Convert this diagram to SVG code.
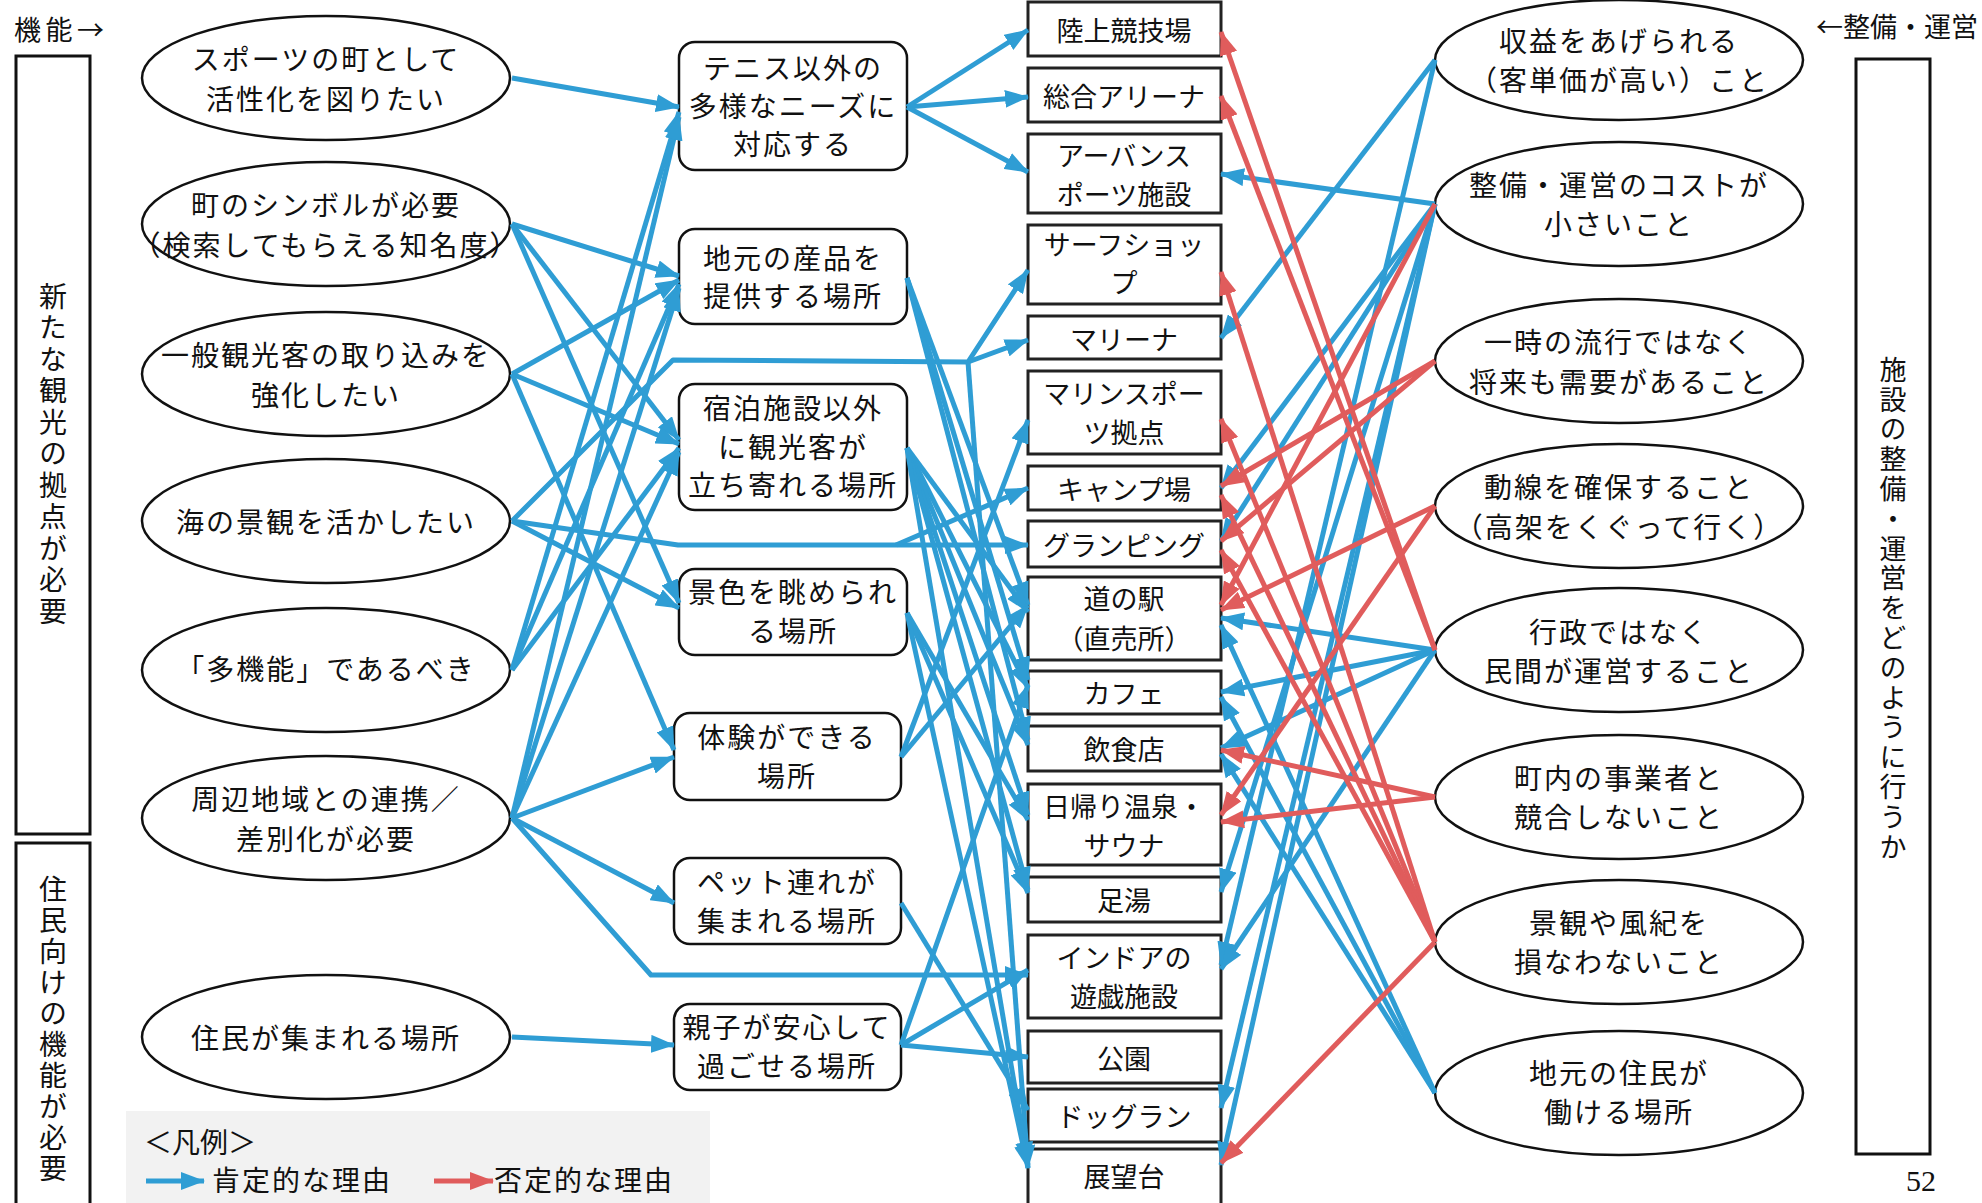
<svg xmlns="http://www.w3.org/2000/svg" width="1982" height="1203" viewBox="0 0 1982 1203">
<defs>
<marker id="ab" markerUnits="userSpaceOnUse" markerWidth="24" markerHeight="18" viewBox="0 0 24 18" refX="23" refY="9" orient="auto"><path d="M0,0 L24,9 L0,18 z" fill="#2f9dd4"/></marker>
<marker id="ar" markerUnits="userSpaceOnUse" markerWidth="24" markerHeight="18" viewBox="0 0 24 18" refX="23" refY="9" orient="auto"><path d="M0,0 L24,9 L0,18 z" fill="#e05c5c"/></marker>
<style>
.ell{fill:#fff;stroke:#111;stroke-width:2.5}
.box{fill:#fff;stroke:#222;stroke-width:3}
.rb{fill:#fff;stroke:#111;stroke-width:2.5}
.t{font-family:"Noto Sans CJK JP","Noto Sans CJK SC",sans-serif;font-size:28px;fill:#111;text-anchor:middle;dominant-baseline:central;letter-spacing:2px}
.tm{font-family:"Noto Sans CJK JP","Noto Sans CJK SC",sans-serif;font-size:28px;fill:#111;text-anchor:middle;dominant-baseline:central;letter-spacing:2px}
.tb{font-family:"Noto Sans CJK JP","Noto Sans CJK SC",sans-serif;font-size:27px;fill:#111;text-anchor:middle;dominant-baseline:central}
.tv{font-family:"Noto Sans CJK JP","Noto Sans CJK SC",sans-serif;font-size:28px;fill:#111;writing-mode:vertical-rl;text-orientation:upright}
.ba{stroke:#2f9dd4;stroke-width:5;fill:none;stroke-linejoin:round;marker-end:url(#ab)}
.ra{stroke:#e05c5c;stroke-width:5;fill:none;marker-end:url(#ar)}
</style>
</defs>
<rect width="1982" height="1203" fill="#fff"/>

<g id="side-labels">
<text x="14" y="28" textLength="90" lengthAdjust="spacing" style="font-family:'Noto Sans CJK JP',sans-serif;font-size:27px;fill:#111;dominant-baseline:central">機能→</text>
<rect x="16" y="56" width="74" height="778" fill="#fff" stroke="#111" stroke-width="3"/>
<text x="53" y="282" class="tv" style="letter-spacing:3.5px">新たな観光の拠点が必要</text>
<rect x="16" y="843" width="74" height="380" fill="#fff" stroke="#111" stroke-width="3"/>
<text x="53" y="875" class="tv" style="letter-spacing:3px">住民向けの機能が必要</text>
<text x="1978" y="25" style="font-family:'Noto Sans CJK JP',sans-serif;font-size:27px;fill:#111;dominant-baseline:central;text-anchor:end">←整備・運営</text>
<rect x="1856" y="59" width="74" height="1095" fill="#fff" stroke="#111" stroke-width="3"/>
<text x="1893" y="356" class="tv" style="font-size:27px;letter-spacing:2.8px">施設の整備・運営をどのように行うか</text>
<text x="1921" y="1180" style="font-family:'Liberation Serif',serif;font-size:30px;fill:#111;text-anchor:middle;dominant-baseline:central">52</text>
</g>

<g id="legend">
<rect x="126" y="1111" width="584" height="100" fill="#f2f2f2"/>
<text x="144" y="1141" style="font-family:'Noto Sans CJK JP',sans-serif;font-size:28px;fill:#111;dominant-baseline:central">＜凡例＞</text>
<line x1="146" y1="1181" x2="204" y2="1181" class="ba"/>
<text x="212" y="1179" style="font-family:'Noto Sans CJK JP',sans-serif;font-size:28px;fill:#111;dominant-baseline:central;letter-spacing:2px">肯定的な理由</text>
<line x1="434" y1="1181" x2="493" y2="1181" class="ra"/>
<text x="494" y="1179" style="font-family:'Noto Sans CJK JP',sans-serif;font-size:28px;fill:#111;dominant-baseline:central;letter-spacing:2px">否定的な理由</text>
</g>

<g id="n-e1"><ellipse cx="326" cy="78" rx="184" ry="62" class="ell"/><text x="326" y="58" class="t">スポーツの町として</text><text x="326" y="98" class="t">活性化を図りたい</text></g>
<g id="n-e2"><ellipse cx="326" cy="224" rx="184" ry="62" class="ell"/><text x="326" y="204" class="t">町のシンボルが必要</text><text x="326" y="244" class="t">（検索してもらえる知名度）</text></g>
<g id="n-e3"><ellipse cx="326" cy="374" rx="184" ry="62" class="ell"/><text x="326" y="354" class="t">一般観光客の取り込みを</text><text x="326" y="394" class="t">強化したい</text></g>
<g id="n-e4"><ellipse cx="326" cy="521" rx="184" ry="62" class="ell"/><text x="326" y="521" class="t">海の景観を活かしたい</text></g>
<g id="n-e5"><ellipse cx="326" cy="670" rx="184" ry="62" class="ell"/><text x="326" y="668" class="t">「多機能」であるべき</text></g>
<g id="n-e6"><ellipse cx="326" cy="818" rx="184" ry="62" class="ell"/><text x="326" y="798" class="t">周辺地域との連携／</text><text x="326" y="838" class="t">差別化が必要</text></g>
<g id="n-e7"><ellipse cx="326" cy="1037" rx="184" ry="62" class="ell"/><text x="326" y="1037" class="t">住民が集まれる場所</text></g>

<g id="n-m1"><rect x="679" y="42" width="228" height="128" rx="16" class="rb"/><text x="793" y="67" class="tm">テニス以外の</text><text x="793" y="105" class="tm">多様なニーズに</text><text x="793" y="143" class="tm">対応する</text></g>
<g id="n-m2"><rect x="679" y="229" width="228" height="95" rx="16" class="rb"/><text x="793" y="257" class="tm">地元の産品を</text><text x="793" y="295" class="tm">提供する場所</text></g>
<g id="n-m3"><rect x="679" y="384" width="228" height="126" rx="16" class="rb"/><text x="793" y="407" class="tm">宿泊施設以外</text><text x="793" y="446" class="tm">に観光客が</text><text x="793" y="484" class="tm">立ち寄れる場所</text></g>
<g id="n-m4"><rect x="679" y="569" width="228" height="86" rx="16" class="rb"/><text x="793" y="591" class="tm">景色を眺められ</text><text x="793" y="630" class="tm">る場所</text></g>
<g id="n-m5"><rect x="674" y="713" width="227" height="87" rx="16" class="rb"/><text x="787" y="736" class="tm">体験ができる</text><text x="787" y="775" class="tm">場所</text></g>
<g id="n-m6"><rect x="674" y="858" width="227" height="86" rx="16" class="rb"/><text x="787" y="881" class="tm">ペット連れが</text><text x="787" y="920" class="tm">集まれる場所</text></g>
<g id="n-m7"><rect x="674" y="1004" width="227" height="86" rx="16" class="rb"/><text x="787" y="1026" class="tm">親子が安心して</text><text x="787" y="1065" class="tm">過ごせる場所</text></g>

<g id="n-r1"><rect x="1028" y="2" width="193" height="54" class="box"/><text x="1124" y="29" class="tb">陸上競技場</text></g>
<g id="n-r2"><rect x="1028" y="68" width="193" height="54" class="box"/><text x="1124" y="95" class="tb">総合アリーナ</text></g>
<g id="n-r3"><rect x="1028" y="134" width="193" height="79" class="box"/><text x="1124" y="154" class="tb">アーバンス</text><text x="1124" y="193" class="tb">ポーツ施設</text></g>
<g id="n-r4"><rect x="1028" y="225" width="193" height="79" class="box"/><text x="1124" y="243" class="tb">サーフショッ</text><text x="1124" y="281" class="tb">プ</text></g>
<g id="n-r5"><rect x="1028" y="316" width="193" height="43" class="box"/><text x="1124" y="338" class="tb">マリーナ</text></g>
<g id="n-r6"><rect x="1028" y="371" width="193" height="83" class="box"/><text x="1124" y="392" class="tb">マリンスポー</text><text x="1124" y="431" class="tb">ツ拠点</text></g>
<g id="n-r7"><rect x="1028" y="466" width="193" height="44" class="box"/><text x="1124" y="488" class="tb">キャンプ場</text></g>
<g id="n-r8"><rect x="1028" y="521" width="193" height="46" class="box"/><text x="1124" y="544" class="tb">グランピング</text></g>
<g id="n-r9"><rect x="1028" y="577" width="193" height="83" class="box"/><text x="1124" y="597" class="tb">道の駅</text><text x="1124" y="637" class="tb">（直売所）</text></g>
<g id="n-r10"><rect x="1028" y="671" width="193" height="43" class="box"/><text x="1124" y="692" class="tb">カフェ</text></g>
<g id="n-r11"><rect x="1028" y="726" width="193" height="45" class="box"/><text x="1124" y="748" class="tb">飲食店</text></g>
<g id="n-r12"><rect x="1028" y="784" width="193" height="81" class="box"/><text x="1124" y="805" class="tb">日帰り温泉・</text><text x="1124" y="844" class="tb">サウナ</text></g>
<g id="n-r13"><rect x="1028" y="877" width="193" height="45" class="box"/><text x="1124" y="899" class="tb">足湯</text></g>
<g id="n-r14"><rect x="1028" y="935" width="193" height="83" class="box"/><text x="1124" y="956" class="tb">インドアの</text><text x="1124" y="995" class="tb">遊戯施設</text></g>
<g id="n-r15"><rect x="1028" y="1031" width="193" height="52" class="box"/><text x="1124" y="1057" class="tb">公園</text></g>
<g id="n-r16"><rect x="1028" y="1089" width="193" height="53" class="box"/><text x="1124" y="1115" class="tb">ドッグラン</text></g>
<g id="n-r17"><rect x="1028" y="1149" width="193" height="66" class="box"/><text x="1124" y="1175" class="tb">展望台</text></g>

<g id="n-p1"><ellipse cx="1619" cy="60" rx="184" ry="60" class="ell"/><text x="1619" y="40" class="t">収益をあげられる</text><text x="1619" y="79" class="t">（客単価が高い）こと</text></g>
<g id="n-p2"><ellipse cx="1619" cy="204" rx="184" ry="62" class="ell"/><text x="1619" y="184" class="t">整備・運営のコストが</text><text x="1619" y="223" class="t">小さいこと</text></g>
<g id="n-p3"><ellipse cx="1619" cy="361" rx="184" ry="62" class="ell"/><text x="1619" y="341" class="t">一時の流行ではなく</text><text x="1619" y="381" class="t">将来も需要があること</text></g>
<g id="n-p4"><ellipse cx="1619" cy="506" rx="184" ry="62" class="ell"/><text x="1619" y="486" class="t">動線を確保すること</text><text x="1619" y="526" class="t">（高架をくぐって行く）</text></g>
<g id="n-p5"><ellipse cx="1619" cy="650" rx="184" ry="62" class="ell"/><text x="1619" y="631" class="t">行政ではなく</text><text x="1619" y="670" class="t">民間が運営すること</text></g>
<g id="n-p6"><ellipse cx="1619" cy="797" rx="184" ry="62" class="ell"/><text x="1619" y="777" class="t">町内の事業者と</text><text x="1619" y="816" class="t">競合しないこと</text></g>
<g id="n-p7"><ellipse cx="1619" cy="942" rx="184" ry="62" class="ell"/><text x="1619" y="922" class="t">景観や風紀を</text><text x="1619" y="961" class="t">損なわないこと</text></g>
<g id="n-p8"><ellipse cx="1619" cy="1093" rx="184" ry="62" class="ell"/><text x="1619" y="1072" class="t">地元の住民が</text><text x="1619" y="1111" class="t">働ける場所</text></g>

<g id="connectors">
<path class="ba" d="M512,78 L679,107"/>
<path class="ba" d="M512,224 L679,276"/>
<path class="ba" d="M512,224 L679,440"/>
<path class="ba" d="M512,224 L679,603"/>
<path class="ba" d="M512,374 L679,280"/>
<path class="ba" d="M512,374 L679,444"/>
<path class="ba" d="M512,374 L674,750"/>
<path class="ba" d="M512,521 L679,608"/>
<path class="ba" d="M512,670 L679,112"/>
<path class="ba" d="M512,670 L679,284"/>
<path class="ba" d="M512,670 L679,448"/>
<path class="ba" d="M512,818 L679,117"/>
<path class="ba" d="M512,818 L679,288"/>
<path class="ba" d="M512,818 L679,452"/>
<path class="ba" d="M512,818 L674,757"/>
<path class="ba" d="M512,818 L674,903"/>
<path class="ba" d="M512,1037 L674,1045"/>
<path class="ba" d="M512,521 L673,360 L968,362 L1028,270"/>
<path class="ba" d="M968,362 L1028,340"/>
<path class="ba" d="M968,362 L1028,1168"/>
<path class="ba" d="M512,521 L678,545 L1028,545"/>
<path class="ba" d="M896,545 L1028,488"/>
<path class="ba" d="M512,818 L651,975 L1028,975"/>
<path class="ba" d="M907,107 L1028,30"/>
<path class="ba" d="M907,107 L1028,97"/>
<path class="ba" d="M907,107 L1028,172"/>
<path class="ba" d="M907,278 L1028,605"/>
<path class="ba" d="M907,278 L1028,680"/>
<path class="ba" d="M907,278 L1028,740"/>
<path class="ba" d="M907,448 L1028,612"/>
<path class="ba" d="M907,448 L1028,688"/>
<path class="ba" d="M907,448 L1028,745"/>
<path class="ba" d="M907,448 L1028,815"/>
<path class="ba" d="M907,448 L1028,890"/>
<path class="ba" d="M907,448 L1028,1165"/>
<path class="ba" d="M907,613 L1028,820"/>
<path class="ba" d="M907,613 L1028,893"/>
<path class="ba" d="M907,613 L1028,1168"/>
<path class="ba" d="M901,757 L1028,420"/>
<path class="ba" d="M901,757 L1028,605"/>
<path class="ba" d="M901,903 L1028,1110"/>
<path class="ba" d="M901,1045 L1028,685"/>
<path class="ba" d="M901,1045 L1028,970"/>
<path class="ba" d="M901,1045 L1028,1057"/>
<path class="ba" d="M1435,60 L1221,338"/>
<path class="ba" d="M1435,60 L1221,965"/>
<path class="ba" d="M1435,204 L1221,174"/>
<path class="ba" d="M1435,204 L1221,488"/>
<path class="ba" d="M1435,204 L1221,541"/>
<path class="ba" d="M1435,204 L1221,892"/>
<path class="ba" d="M1435,204 L1221,1108"/>
<path class="ba" d="M1435,204 L1221,1165"/>
<path class="ba" d="M1435,650 L1221,618"/>
<path class="ba" d="M1435,650 L1221,692"/>
<path class="ba" d="M1435,650 L1221,748"/>
<path class="ba" d="M1435,650 L1221,969"/>
<path class="ba" d="M1435,1093 L1221,625"/>
<path class="ba" d="M1435,1093 L1221,697"/>
<path class="ba" d="M1435,1093 L1221,754"/>
<path class="ra" d="M1435,650 L1221,32"/>
<path class="ra" d="M1435,650 L1221,96"/>
<path class="ra" d="M1435,361 L1221,486"/>
<path class="ra" d="M1435,361 L1221,541"/>
<path class="ra" d="M1435,506 L1221,610"/>
<path class="ra" d="M1435,506 L1221,815"/>
<path class="ra" d="M1435,204 L1221,605"/>
<path class="ra" d="M1435,797 L1221,750"/>
<path class="ra" d="M1435,797 L1221,822"/>
<path class="ra" d="M1435,942 L1221,272"/>
<path class="ra" d="M1435,942 L1221,419"/>
<path class="ra" d="M1435,942 L1221,495"/>
<path class="ra" d="M1435,942 L1221,550"/>
<path class="ra" d="M1435,942 L1221,1163"/>
</g>
</svg>
